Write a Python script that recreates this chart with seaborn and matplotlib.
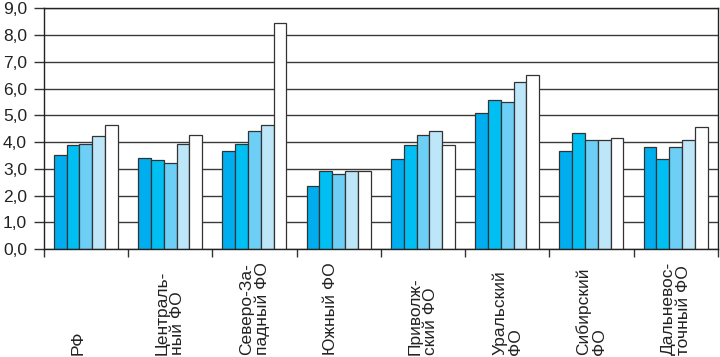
import numpy as np
import pandas as pd
import matplotlib
matplotlib.use('Agg')
import matplotlib.pyplot as plt
import seaborn as sns

regions = ['РФ\n', 'Централь-\nный ФО', 'Северо-За-\nпадный ФО', 'Южный ФО\n',
           'Приволж-\nский ФО', 'Уральский\nФО', 'Сибирский\nФО', 'Дальневос-\nточный ФО']
series = ['1', '2', '3', '4', '5']
s1 = [3.53, 3.40, 3.67, 2.36, 3.38, 5.09, 3.67, 3.81]
s2 = [3.87, 3.33, 3.94, 2.90, 3.87, 5.57, 4.34, 3.38]
s3 = [3.94, 3.20, 4.41, 2.79, 4.28, 5.51, 4.06, 3.81]
s4 = [4.23, 3.94, 4.62, 2.90, 4.43, 6.26, 4.06, 4.06]
s5 = [4.62, 4.28, 8.44, 2.90, 3.87, 6.52, 4.15, 4.55]
colors = ['#00aeef', '#00c0f3', '#6dcff6', '#bde6f9', '#ffffff']
yticks = [0, 1, 2, 3, 4, 5, 6, 7, 8, 9]

df = pd.DataFrame({'region': regions * 5,
                   'series': np.repeat(series, len(regions)),
                   'value': s1 + s2 + s3 + s4 + s5})

sns.set_style('white')
plt.rcParams['font.family'] = ['Liberation Sans', 'DejaVu Sans']

fig = plt.figure(figsize=(7.2, 3.57), dpi=100)
ax = fig.add_axes([0.0607, 0.3025, 0.9363, 0.6743])
sns.barplot(data=df, x='region', y='value', hue='series', palette=colors,
            saturation=1, edgecolor='#333333', linewidth=0.9, width=0.76,
            legend=False, ax=ax)

ax.set_ylim(0, 9)
ax.set_xlim(-0.5, len(regions) - 0.5)
ax.set_yticks(yticks)
ax.set_yticklabels([f'{v:.1f}'.replace('.', ',') for v in yticks], fontsize=12.5)
ax.yaxis.grid(True, color='#3a3a3a', linewidth=1.0)
ax.set_axisbelow(True)
for s in ax.spines.values():
    s.set_color('#222222')
    s.set_linewidth(1.0)
ax.tick_params(axis='y', which='major', length=7, width=1, color='#333333',
               pad=5, left=True, colors='#222222')
ax.set_xticks(np.arange(-0.5, len(regions), 1.0))
ax.set_xticklabels([])
ax.tick_params(axis='x', which='major', length=6, width=1, color='#333333', bottom=True)
ax.set_xlabel('')
ax.set_ylabel('')

for i, name in enumerate(regions):
    ax.text(i, -0.44, name, transform=ax.get_xaxis_transform(), rotation=90,
            ha='center', va='bottom', multialignment='left', fontsize=12.5,
            linespacing=1.05, color='#222222')

fig.savefig('out.png', dpi=100)
